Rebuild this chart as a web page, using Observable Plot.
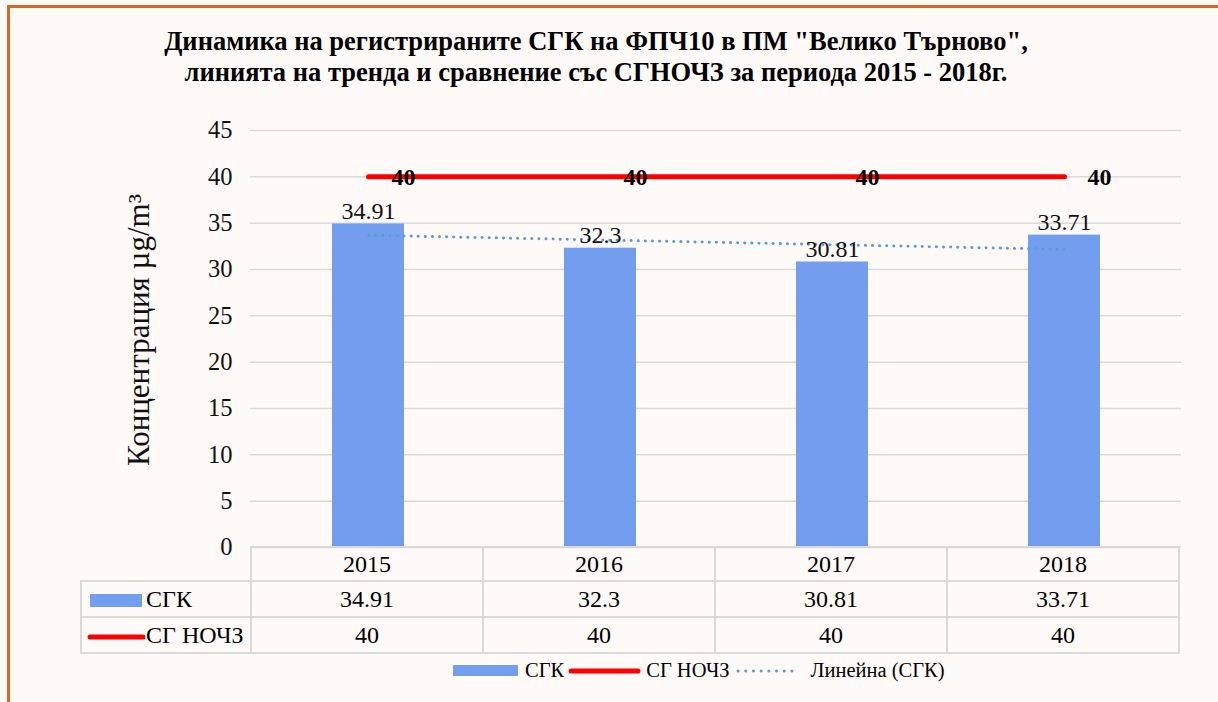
<!DOCTYPE html>
<html>
<head>
<meta charset="utf-8">
<script src="https://cdn.jsdelivr.net/npm/d3@7"></script>
<script src="https://cdn.jsdelivr.net/npm/@observablehq/plot@0.6"></script>
<style>
  html, body { margin: 0; padding: 0; }
  body {
    width: 1218px; height: 702px; overflow: hidden; position: relative;
    background: #fefaf7;
    font-family: "Liberation Serif", "Times New Roman", serif;
    color: #000;
  }
  #frame {
    position: absolute; left: 7px; top: 5px; width: 1400px; height: 900px;
    border-left: 3px solid #d5691f; border-top: 3px solid #d5691f;
    box-sizing: border-box;
  }
  #title {
    position: absolute; left: 0; top: 26px; width: 1192px;
    text-align: center; font-weight: bold; font-size: 26.5px; line-height: 31px;
  }
  #chart { position: absolute; left: 0; top: 110px; }
  #table {
    position: absolute; top: 546px; border-collapse: collapse;
    font-size: 24px; table-layout: fixed;
  }
  #table td { border: 2px solid #d9d9d9; text-align: center; padding: 0; line-height: 1; }
  #table td.blank { border: none; }
  #table td.head { text-align: left; white-space: nowrap; }
  #legend {
    position: absolute; left: 453px; top: 659px; display: flex; align-items: center;
    font-size: 20.5px; white-space: nowrap;
  }
</style>
</head>
<body>
<div id="frame"></div>
<div id="title">Динамика на регистрираните СГК на ФПЧ10 в ПМ "Велико Търново",<br>линията на тренда и сравнение със СГНОЧЗ за периода 2015 - 2018г.</div>
<div id="chart"></div>
<table id="table"></table>
<div id="legend"></div>
<script>
// ---- data ----
const years = ["2015", "2016", "2017", "2018"];
const sgk = [34.91, 32.3, 30.81, 33.71];
const sgnochz = [40, 40, 40, 40];
const yTicks = [0, 5, 10, 15, 20, 25, 30, 35, 40, 45];
const seriesNames = ["СГК", "СГ НОЧЗ", "Линейна (СГК)"];
const yLabel = "Концентрация µg/m³";

const barColor = "#739ded";
const limitColor = "#ff0000";
const trendColor = "#5b9bd5";

// linear trend (least squares over the category index), like Excel's linear trendline
const n = years.length;
const mx = d3.mean(d3.range(n));
const my = d3.mean(sgk);
const slope = d3.sum(d3.range(n), i => (i - mx) * (sgk[i] - my)) / d3.sum(d3.range(n), i => (i - mx) ** 2);
const trend = d3.range(n).map(i => my + slope * (i - mx));

const data = years.map((y, i) => ({year: y, sgk: sgk[i], limit: sgnochz[i], trend: trend[i]}));

const chart = Plot.plot({
  width: 1218,
  height: 460,
  marginTop: 20,
  marginBottom: 23,
  marginLeft: 250,
  marginRight: 37,
  style: {background: "transparent", fontFamily: "Liberation Serif, Times New Roman, serif", color: "#000", overflow: "visible"},
  x: {domain: years, padding: 0, axis: null},
  y: {domain: [0, 45], ticks: yTicks},
  marks: [
    Plot.gridY(yTicks, {stroke: "#d9d9d9", strokeOpacity: 1, strokeWidth: 1.5}),
    Plot.axisY(yTicks, {tickSize: 0, tickPadding: 18, fontSize: 24.5, label: null, fill: "#111"}),
    Plot.text([yLabel], {frameAnchor: "left", textAnchor: "middle", dx: -111, dy: -9, rotate: -90, fontSize: 31, fill: "#111"}),
    Plot.barY(data, {x: "year", y: "sgk", fill: barColor, insetLeft: 80, insetRight: 80}),
    Plot.lineY(data, {x: "year", y: "limit", stroke: limitColor, strokeWidth: 5, strokeLinecap: "round"}),
    Plot.lineY(data, {x: "year", y: "trend", stroke: trendColor, strokeWidth: 3, strokeDasharray: "0.1 7", strokeLinecap: "round"}),
    Plot.text(data, {x: "year", y: "sgk", text: d => String(d.sgk), dy: -13, fontSize: 24, fill: "#111"}),
    Plot.text(data, {x: "year", y: "limit", text: d => String(d.limit), dx: 35, fontSize: 24, fontWeight: "bold", fill: "#000"})
  ]
});
document.getElementById("chart").appendChild(chart);

// ---- data table aligned with the x band scale ----
const xs = chart.scale("x");
const step = xs.bandwidth;
const headW = 170;
const table = document.getElementById("table");
table.style.left = (250 - headW) + "px";
const colgroup = document.createElement("colgroup");
[headW, ...years.map(() => step)].forEach(w => {
  const c = document.createElement("col"); c.style.width = w + "px"; colgroup.appendChild(c);
});
table.appendChild(colgroup);
table.style.width = (headW + step * n) + "px";

function row(height, headHtml, values, blankHead) {
  const tr = document.createElement("tr");
  tr.style.height = height + "px";
  const th = document.createElement("td");
  if (blankHead) th.className = "blank"; else { th.className = "head"; th.innerHTML = headHtml; }
  tr.appendChild(th);
  values.forEach(v => { const td = document.createElement("td"); td.textContent = v; tr.appendChild(td); });
  table.appendChild(tr);
}
const swBar = `<svg width="56" height="14" style="vertical-align:middle;margin-left:7px;margin-right:1px"><rect x="1" y="0" width="52" height="13" fill="${barColor}"/></svg>`;
const swLine = `<svg width="60" height="14" style="vertical-align:middle;margin-left:4px;margin-right:0px"><line x1="4" y1="7" x2="57" y2="7" stroke="${limitColor}" stroke-width="5" stroke-linecap="round"/></svg>`;
row(34, "", years, true);
row(36, swBar + seriesNames[0], sgk.map(String));
row(36, swLine + seriesNames[1], sgnochz.map(String));

// ---- legend ----
const legend = document.getElementById("legend");
legend.innerHTML =
  `<svg width="66" height="12" style="margin-right:6px"><rect x="0" y="0" width="65" height="11" fill="${barColor}"/></svg><span>${seriesNames[0]}</span>` +
  `<svg width="74" height="12" style="margin-left:4px;margin-right:4px"><line x1="3" y1="6" x2="70" y2="6" stroke="${limitColor}" stroke-width="5" stroke-linecap="round"/></svg><span>${seriesNames[1]}</span>` +
  `<svg width="68" height="12" style="margin-left:5px;margin-right:8px"><line x1="3" y1="6" x2="64" y2="6" stroke="${trendColor}" stroke-width="3" stroke-dasharray="0.1 7.6" stroke-linecap="round"/></svg><span>${seriesNames[2]}</span>`;
</script>
</body>
</html>
